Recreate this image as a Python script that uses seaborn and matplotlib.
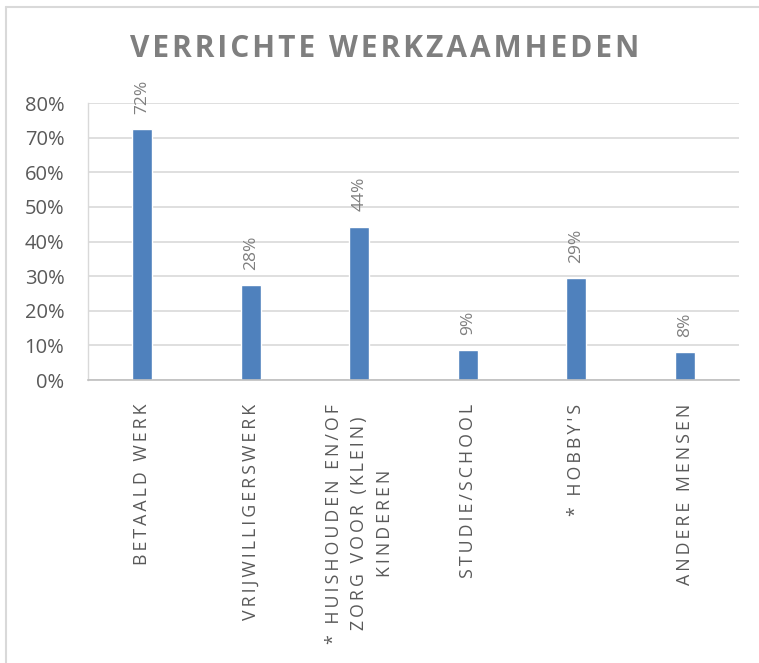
import numpy as np
import pandas as pd
import matplotlib
matplotlib.use("Agg")
import matplotlib.pyplot as plt
from matplotlib.lines import Line2D
from matplotlib.ticker import FixedLocator, PercentFormatter
import seaborn as sns

categories = ["BETAALD WERK", "VRIJWILLIGERSWERK",
              "* HUISHOUDEN EN/OF\nZORG VOOR (KLEIN)\nKINDEREN",
              "STUDIE/SCHOOL", "* HOBBY'S", "ANDERE MENSEN"]
values = [0.724, 0.275, 0.443, 0.086, 0.294, 0.081]
labels = ["72%", "28%", "44%", "9%", "29%", "8%"]

sns.set_theme(style="white")
plt.rcParams['font.family'] = ['Open Sans', 'DejaVu Sans']


def spaced(s, sep="\u2009"):
    return "\n".join(sep.join(line) for line in s.split("\n"))


df = pd.DataFrame({"cat": categories, "val": values})

fig = plt.figure(figsize=(7.59, 6.63), dpi=100)
ax = fig.add_axes([0.1159, 0.4268, 0.8577, 0.4178])

sns.barplot(data=df, x="cat", y="val", color="#4f81bd", width=0.185,
            saturation=1, ax=ax)

ax.set_ylim(0, 0.8)
ax.set_xlim(-0.5, len(categories) - 0.5)
ax.yaxis.set_major_locator(FixedLocator(np.arange(0, 0.81, 0.1)))
ax.yaxis.set_major_formatter(PercentFormatter(1.0, decimals=0))
ax.grid(axis="y", color="#d9d9d9", linewidth=1.2)
ax.set_axisbelow(True)
ax.set_xlabel("")
ax.set_ylabel("")

for s in ["top", "right"]:
    ax.spines[s].set_visible(False)
ax.spines["left"].set_color("#d9d9d9")
ax.spines["bottom"].set_color("#bfbfbf")
ax.spines["left"].set_linewidth(1.0)
ax.spines["bottom"].set_linewidth(1.2)

ax.tick_params(axis="y", length=6, color="#d9d9d9", width=1.2, pad=11,
               labelsize=14.5, labelcolor="#595959")
ax.set_xticks(range(len(categories)))
ax.set_xticklabels([spaced(c) for c in categories], rotation=90,
                   ha="center", va="top", multialignment="center",
                   fontsize=12.8, color="#595959", linespacing=1.55)
ax.tick_params(axis="x", which="major", length=0, pad=17)
ax.set_xticks(np.arange(-0.5, len(categories), 1.0), minor=True)
ax.tick_params(axis="x", which="minor", length=6, color="#bfbfbf", width=1.2)

for i, (v, lab) in enumerate(zip(values, labels)):
    ax.annotate(lab, (i, v), xytext=(0, 11), textcoords="offset points",
                rotation=90, ha="center", va="bottom", fontsize=12.5,
                color="#7f7f7f")

fig.text(0.507, 0.926, spaced("VERRICHTE WERKZAAMHEDEN", "\u200a"),
         ha="center", va="center", fontsize=21.5, fontweight="bold",
         color="#7f7f7f")

# chart frame (cropped on right and bottom)
fig.add_artist(Line2D([6 / 759, 1], [1 - 7 / 663] * 2, color="#d9d9d9",
                      linewidth=1.5, transform=fig.transFigure))
fig.add_artist(Line2D([6 / 759] * 2, [0, 1 - 7 / 663], color="#d9d9d9",
                      linewidth=1.5, transform=fig.transFigure))

fig.savefig("out.png", dpi=100)
